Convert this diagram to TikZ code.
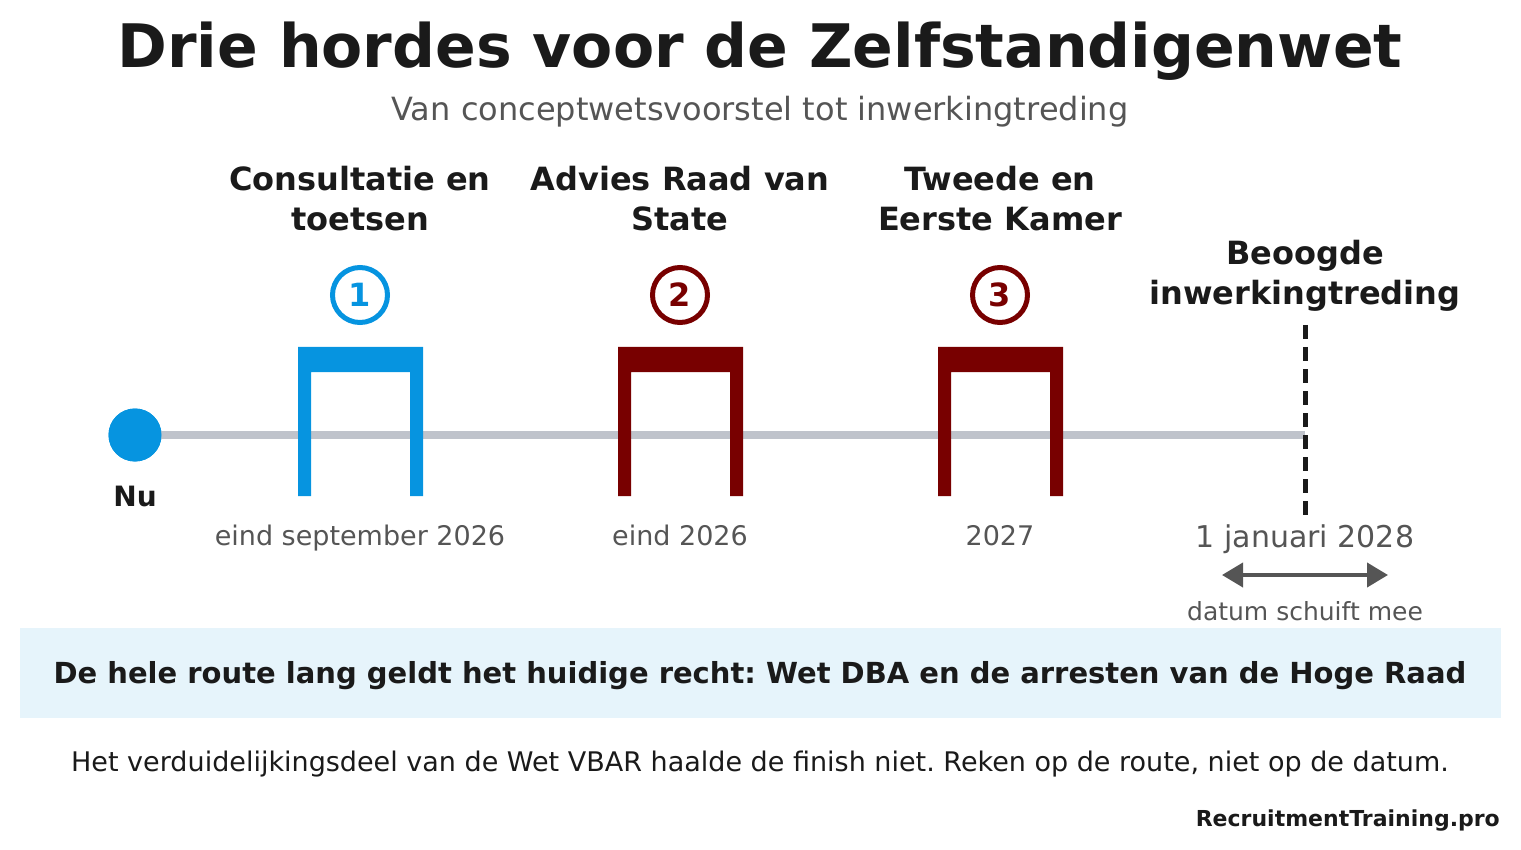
\documentclass[tikz,border=0pt]{standalone}
\usepackage{fontspec}
\setmainfont{DejaVu Sans}
\usetikzlibrary{positioning,arrows.meta}
\frenchspacing

\definecolor{stepblue}{HTML}{0694E0}
\definecolor{stepred}{HTML}{780000}
\definecolor{linegray}{HTML}{BFC3CB}
\definecolor{textgray}{HTML}{555555}
\definecolor{textdark}{HTML}{1A1A1A}
\definecolor{boxblue}{HTML}{E6F4FB}

\tikzset{
  stagetitle/.style={align=center, font=\bfseries\fontsize{32}{40}\selectfont, text=textdark},
  datelabel/.style={anchor=base, font=\fontsize{27}{30}\selectfont, text=textgray},
  stepcircle/.style={circle, draw, line width=5pt, minimum size=55pt, inner sep=0pt,
    font=\bfseries\fontsize{32}{32}\selectfont}
}

\begin{document}
\begin{tikzpicture}[x=1pt, y=-1pt]
  \useasboundingbox (0,0) rectangle (1521,850);

  % Title
  \node (title) [anchor=base, font=\bfseries\fontsize{60}{60}\selectfont, text=textdark] at (760,68) {Drie hordes voor de Zelfstandigenwet};
  \node (subtitle) [anchor=base, font=\fontsize{32}{32}\selectfont, text=textgray] at (760,121) {Van conceptwetsvoorstel tot inwerkingtreding};

  % Stage titles
  \node (t1) [stagetitle] at (360,199) {Consultatie en\\toetsen};
  \node (t2) [stagetitle] at (680,199) {Advies Raad van\\State};
  \node (t3) [stagetitle] at (1000,199) {Tweede en\\Eerste Kamer};
  \node (t4) [stagetitle] at (1305,276) {Beoogde\\inwerkingtreding};

  % Numbered circles
  \node (c1) [stepcircle, draw=stepblue, text=stepblue] at (360,295) {1};
  \node (c2) [stepcircle, draw=stepred, text=stepred] at (680,295) {2};
  \node (c3) [stepcircle, draw=stepred, text=stepred] at (1000,295) {3};

  % Timeline
  \node (nu) [circle, fill=stepblue, minimum size=53pt, inner sep=0pt] at (135,435) {};
  \coordinate (end) at (1305,435);
  \draw[linegray, line width=8pt] (nu.center) -- (end);
  \fill[stepblue] (nu.center) circle (26.5);
  \node (nutext) [anchor=base, font=\bfseries\fontsize{28}{28}\selectfont, text=textdark] at (135,506) {Nu};

  % Gates
  \fill[stepblue] (298,496) -- (298,347) -- (423,347) -- (423,496) -- (410,496) -- (410,372) -- (311,372) -- (311,496) -- cycle;
  \fill[stepred] (618,496) -- (618,347) -- (743,347) -- (743,496) -- (730,496) -- (730,372) -- (631,372) -- (631,496) -- cycle;
  \fill[stepred] (938,496) -- (938,347) -- (1063,347) -- (1063,496) -- (1050,496) -- (1050,372) -- (951,372) -- (951,496) -- cycle;

  % Target date
  \coordinate (dtop) at (1305,325);
  \coordinate (dbot) at (1305,521);
  \draw[textdark, line width=5pt, dash pattern=on 14pt off 8pt] (dtop) -- (dbot);

  % Dates
  \node (d1) [datelabel] at (360,545) {eind september 2026};
  \node (d2) [datelabel] at (680,545) {eind 2026};
  \node (d3) [datelabel] at (1000,545) {2027};
  \node (d4) [anchor=base, font=\fontsize{30}{30}\selectfont, text=textgray] at (1305,547) {1 januari 2028};

  \coordinate (al) at (1222,575);
  \coordinate (ar) at (1388,575);
  \draw[textgray, line width=4pt, {Triangle[length=21pt,width=24pt]}-{Triangle[length=21pt,width=24pt]}] (al) -- (ar);
  \node (shift) [anchor=base, font=\fontsize{25}{25}\selectfont, text=textgray] at (1305,620) {datum schuift mee};

  % Note box
  \fill[boxblue] (20,628) rectangle (1501,718);
  \node (note) [anchor=base, font=\bfseries\fontsize{29}{29}\selectfont, text=textdark] at (760,683) {De hele route lang geldt het huidige recht: Wet DBA en de arresten van de Hoge Raad};
  \node (foot) [anchor=base, font=\fontsize{27}{27}\selectfont, text=textdark] at (760,771) {Het verduidelijkingsdeel van de Wet VBAR haalde de finish niet. Reken op de route, niet op de datum.};
  \node (brand) [anchor=base east, inner sep=0pt, font=\bfseries\fontsize{22}{22}\selectfont, text=textdark] at (1500,826) {RecruitmentTraining.pro};
\end{tikzpicture}
\end{document}
